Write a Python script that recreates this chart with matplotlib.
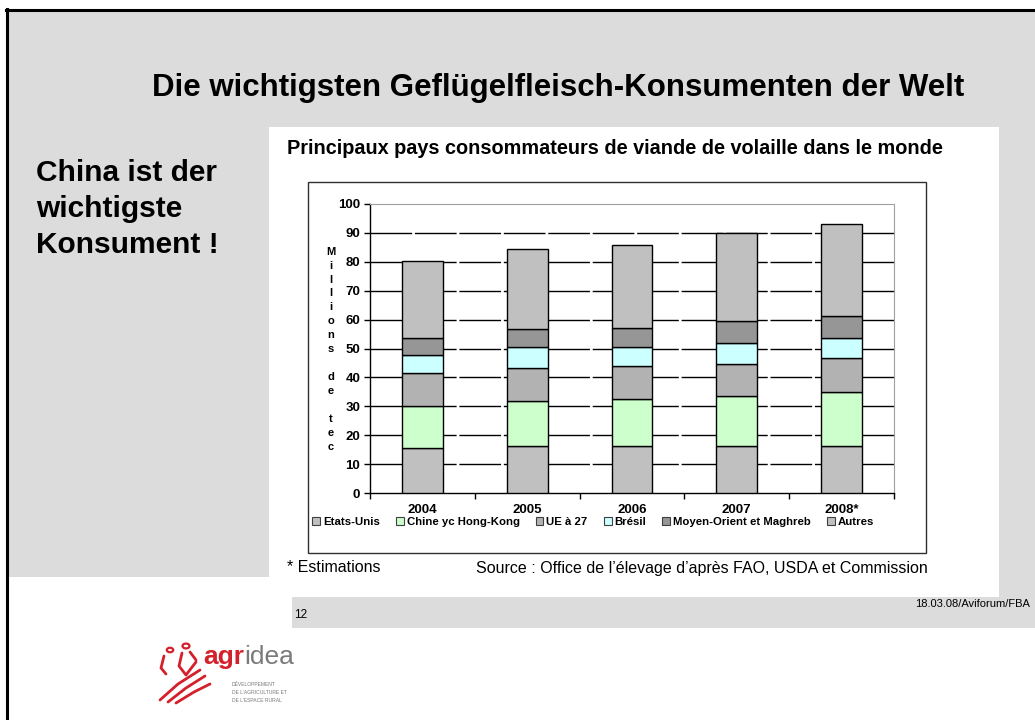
import matplotlib
matplotlib.use("Agg")
import matplotlib.pyplot as plt
from matplotlib.patches import Rectangle, Circle
from matplotlib.lines import Line2D
import numpy as np

plt.rcParams['font.family'] = ['Liberation Sans', 'DejaVu Sans']

# ---------------- data ----------------
years = ["2004", "2005", "2006", "2007", "2008*"]
series_names = ["Etats-Unis", "Chine yc Hong-Kong", "UE à 27", "Brésil",
                "Moyen-Orient et Maghreb", "Autres"]
etats_unis = [15.7, 16.2, 16.2, 16.2, 16.2]
chine = [14.4, 15.6, 16.4, 17.4, 18.9]
ue27 = [11.5, 11.6, 11.3, 11.2, 11.7]
bresil = [6.2, 7.2, 6.7, 7.2, 6.8]
moyen_orient = [5.9, 6.0, 6.6, 7.5, 7.7]
autres = [26.7, 27.7, 28.5, 30.3, 31.8]
series_values = [etats_unis, chine, ue27, bresil, moyen_orient, autres]
series_colors = ["#c0c0c0", "#ccffcc", "#b2b2b2", "#ccffff", "#969696", "#c0c0c0"]
yticks = [0, 10, 20, 30, 40, 50, 60, 70, 80, 90, 100]

W, H = 1035, 720
fig = plt.figure(figsize=(W / 100, H / 100), dpi=100)
fig.patch.set_facecolor("white")


def fx(x):
    return x / W


def fy(y):
    return 1 - y / H


def rect(x0, y0, x1, y1, color, z=0, ec="none", lw=0):
    fig.patches.append(Rectangle((fx(x0), fy(y1)), fx(x1) - fx(x0), fy(y0) - fy(y1),
                                 transform=fig.transFigure, facecolor=color,
                                 edgecolor=ec, linewidth=lw, zorder=z))


gray = "#dcdcdc"
rect(8, 11, 1035, 127, gray)
rect(8, 11, 269, 577, gray)
rect(999, 11, 1035, 628, gray)
rect(292, 597, 1035, 628, gray)
rect(269, 127, 999, 597, "white", z=1)
# inner chart frame
rect(308, 182, 926, 553, "none", z=2, ec="#303030", lw=1.0)
# slide frame lines
fig.lines.append(Line2D([fx(6), fx(1035)], [fy(10), fy(10)], transform=fig.transFigure,
                        color="black", lw=2.2))
fig.lines.append(Line2D([fx(7), fx(7)], [fy(9), fy(720)], transform=fig.transFigure,
                        color="black", lw=2.2))

# ---------------- axes ----------------
ax = fig.add_axes([fx(370), fy(493), fx(894) - fx(370), fy(204) - fy(493)])
ax.set_zorder(3)
ax.patch.set_facecolor("white")
x = np.arange(len(years))
bottom = np.zeros(len(years))
handles = []
for name, vals, col in zip(series_names, series_values, series_colors):
    b = ax.bar(x, vals, bottom=bottom, width=0.39, color=col, edgecolor="black",
               linewidth=1.0, label=name, zorder=3)
    handles.append(b)
    bottom += np.array(vals)

ax.set_xlim(-0.5, len(years) - 0.5)
ax.set_ylim(0, 100)
ax.set_yticks(yticks)
ax.set_yticklabels([str(t) for t in yticks], fontsize=9.5, fontweight="bold")
ax.set_xticks(x)
ax.set_xticklabels(years, fontsize=9.5, fontweight="bold")
ax.set_xticks(np.arange(-0.5, len(years), 1.0), minor=True)
ax.tick_params(axis="x", which="major", length=0, pad=8)
ax.tick_params(axis="x", which="minor", length=4, width=1, direction="out")
ax.tick_params(axis="y", length=4, width=1, direction="out", pad=3)
for t in yticks[1:-1]:
    ax.axhline(t, color="black", lw=1.0, dashes=(30, 2), zorder=1)
ax.spines["top"].set_color("#a0a0a0")
ax.spines["right"].set_color("#a0a0a0")
ax.spines["left"].set_linewidth(1.0)
ax.spines["bottom"].set_linewidth(1.0)

# vertical y label
label_chars = "Millions de tec"
y0 = 251.7
for i, ch in enumerate(label_chars):
    if ch != " ":
        fig.text(fx(331), fy(y0 + i * 13.93), ch, fontsize=8, fontweight="bold",
                 ha="center", va="center", zorder=5)

# legend
leg = fig.legend(handles=handles, labels=series_names, loc="center",
                 bbox_to_anchor=(fx(593), fy(522)), ncol=6, frameon=False,
                 handlelength=0.7, handleheight=0.7,
                 handletextpad=0.25, columnspacing=1.4,
                 prop={"weight": "bold", "size": 8.2})
for h in leg.legend_handles:
    h.set_linewidth(0.8)
    h.set_edgecolor("#404040")
leg.set_zorder(6)

# ---------------- texts ----------------
fig.text(fx(558), fy(88), "Die wichtigsten Geflügelfleisch-Konsumenten der Welt",
         fontsize=22.5, fontweight="bold", ha="center", va="center", zorder=5)
for i, line in enumerate(["China ist der", "wichtigste", "Konsument !"]):
    fig.text(fx(36), fy(173 + i * 36), line, fontsize=21.5, fontweight="bold",
             ha="left", va="center", zorder=5)
fig.text(fx(287), fy(148), "Principaux pays consommateurs de viande de volaille dans le monde",
         fontsize=14.3, fontweight="bold", ha="left", va="center", zorder=5)
fig.text(fx(287), fy(568), "* Estimations", fontsize=11.5, ha="left", va="center", zorder=5)
fig.text(fx(928), fy(568), "Source : Office de l\u2019élevage d\u2019après FAO, USDA et Commission",
         fontsize=11.5, ha="right", va="center", zorder=5)
fig.text(fx(294), fy(615), "12", fontsize=8.5, ha="left", va="center", zorder=5)
fig.text(fx(1030), fy(604), "18.03.08/Aviforum/FBA", fontsize=8, ha="right",
         va="center", zorder=5)

# ---------------- logo ----------------
red = "#d4202a"
lg = "#7a7a7a"
t1 = fig.text(fx(203), fy(664), "agr", fontsize=19, fontweight="bold", color=red,
              ha="left", va="baseline", zorder=5)
fig.canvas.draw()
bb = t1.get_window_extent()
fig.text(bb.x1 / W + 0.0005, fy(664), "idea", fontsize=19, color=lg,
         ha="left", va="baseline", zorder=5)
for i, line in enumerate(["DÉVELOPPEMENT", "DE L\u2019AGRICULTURE ET", "DE L\u2019ESPACE RURAL"]):
    fig.text(fx(232), fy(684 + i * 8), line, fontsize=3.6, color=lg, ha="left",
             va="center", zorder=5)
# symbol: two small figures and swooshes
for cx, cy, r in [(170, 650, 3.2), (186, 646, 3.5)]:
    fig.patches.append(Circle((fx(cx), fy(cy)), r / W, transform=fig.transFigure,
                              facecolor="none", edgecolor=red, lw=1.6, zorder=5))
for xs, ys in [([164, 161, 166], [656, 668, 674]),
               ([182, 179, 186, 196], [653, 666, 675, 662]),
               ([190, 196], [652, 660]),
               ([160, 178, 200], [700, 684, 670]),
               ([168, 186, 205], [702, 688, 676]),
               ([176, 194, 210], [703, 692, 684])]:
    fig.lines.append(Line2D([fx(v) for v in xs], [fy(v) for v in ys],
                            transform=fig.transFigure, color=red, lw=2.0,
                            solid_capstyle="round", zorder=5))

fig.savefig("out.png", dpi=100, facecolor=fig.get_facecolor())
